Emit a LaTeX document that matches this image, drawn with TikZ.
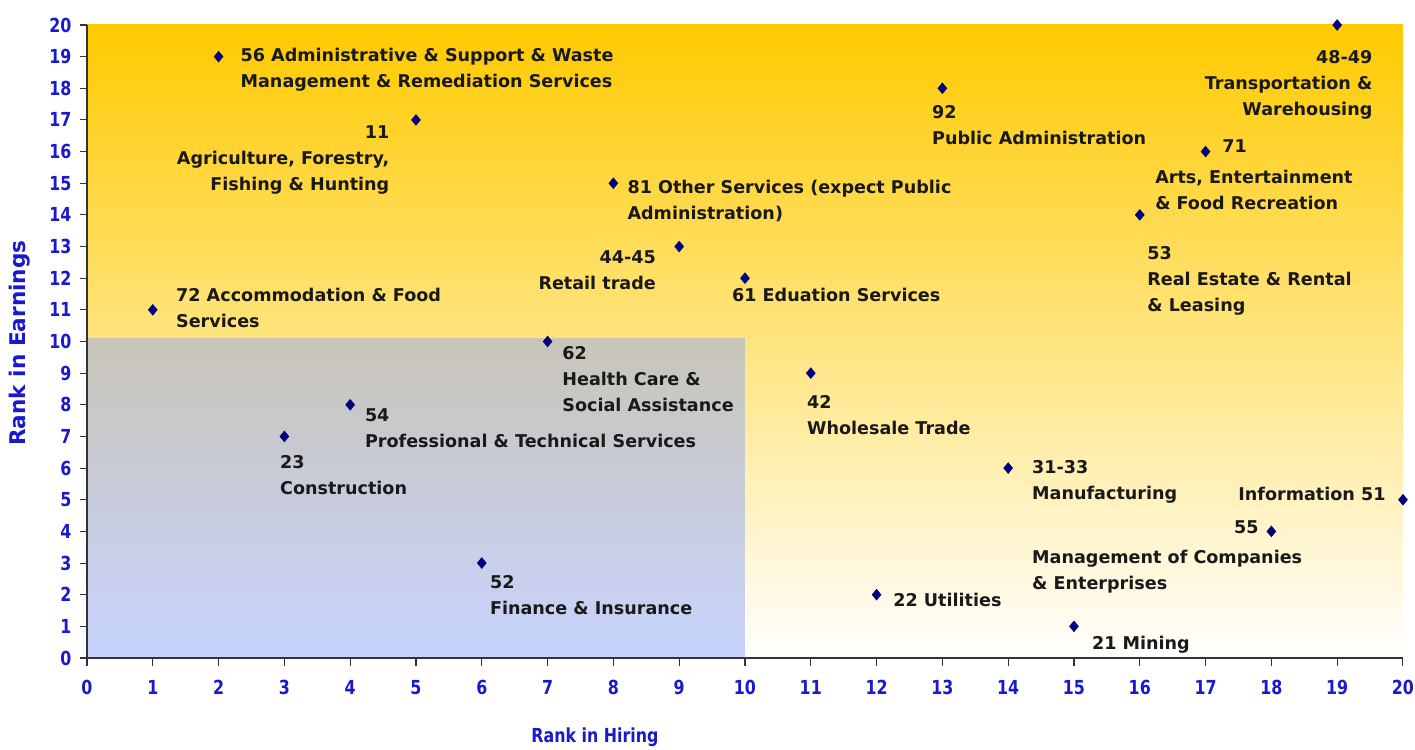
\documentclass[tikz,border=0pt]{standalone}
\usepackage{fontspec}
\setmainfont{DejaVu Sans}
\newfontfamily\axisfont[FakeStretch=0.82]{DejaVu Sans}
\usetikzlibrary{shapes.geometric}
\definecolor{navy}{RGB}{0,0,128}
\definecolor{axisblue}{RGB}{25,25,205}
\definecolor{gold}{RGB}{255,202,0}
\definecolor{peach}{RGB}{255,226,145}
\definecolor{shadeblue}{RGB}{135,160,255}
\tikzset{
	dot/.style={diamond, fill=navy, inner sep=0pt, minimum width=0.2cm, minimum height=0.24cm},
	lbl/.style={font=\bfseries\fontsize{10}{15}\selectfont, text=black!90, inner sep=0pt, align=left},
	ticklbl/.style={font=\axisfont\bfseries\fontsize{11}{13}\selectfont, text=axisblue, inner sep=0pt},
	axistitle/.style={font=\axisfont\bfseries\fontsize{11}{13}\selectfont, text=axisblue, inner sep=0pt}
}

\begin{document}
\begin{tikzpicture}[x=1.316cm, y=0.633cm]
	\useasboundingbox (-1.322,-2.907) rectangle (20.183,20.79);
	\shade [top color=gold, middle color=peach, bottom color=white] (0,0) rectangle (20,20);
	\fill [shadeblue, opacity=0.45] (0,0) rectangle (10,10.1);
	\draw [line width=1pt, black!80] (0,20) -- (0,0) -- (20,0);
	\foreach \i in {0,...,20} {
		\draw [line width=0.6pt, black!80] (\i,0) -- (\i,-0.25);
		\draw [line width=0.6pt, black!80] (0,\i) -- (-0.106,\i);
		\node [ticklbl] (xt\i) at (\i,-0.92) {\i};
		\node [ticklbl, anchor=east] (yt\i) at (-0.23,\i) {\i};
	}
	\node [axistitle] (xlab) at (7.72,-2.5) {Rank in Hiring};
	\node [axistitle, font=\bfseries\fontsize{12.3}{14}\selectfont, rotate=90] (ylab) at (-1.02,9.95) {Rank in Earnings};

	\node [dot] (m56) at (2,19) {};
	\node [dot] (m11) at (5,17) {};
	\node [dot] (m72) at (1,11) {};
	\node [dot] (m81) at (8,15) {};
	\node [dot] (m44) at (9,13) {};
	\node [dot] (m61) at (10,12) {};
	\node [dot] (m92) at (13,18) {};
	\node [dot] (m48) at (19,20) {};
	\node [dot] (m71) at (17,16) {};
	\node [dot] (m53) at (16,14) {};
	\node [dot] (m62) at (7,10) {};
	\node [dot] (m54) at (4,8) {};
	\node [dot] (m23) at (3,7) {};
	\node [dot] (m52) at (6,3) {};
	\node [dot] (m42) at (11,9) {};
	\node [dot] (m31) at (14,6) {};
	\node [dot] (m22) at (12,2) {};
	\node [dot] (m21) at (15,1) {};
	\node [dot] (m55) at (18,4) {};
	\node [dot] (m51) at (20,5) {};

	\node [lbl, anchor=base west] (l56) at (2.33,18.02) {56 Administrative \& Support \& Waste\\Management \& Remediation Services};
	\node [lbl, anchor=base east, align=right] (l11) at (4.6,14.76) {11\\Agriculture, Forestry,\\Fishing \& Hunting};
	\node [lbl, anchor=base west] (l72) at (1.35,10.44) {72 Accommodation \& Food\\Services};
	\node [lbl, anchor=base west] (l81) at (8.21,13.85) {81 Other Services (expect Public\\Administration)};
	\node [lbl, anchor=base east, align=right] (l44) at (8.65,11.64) {44-45\\Retail trade};
	\node [lbl, anchor=base west] (l61) at (9.80,11.25) {61 Eduation Services};
	\node [lbl, anchor=base west] (l92) at (12.84,16.22) {92\\Public Administration};
	\node [lbl, anchor=base east, align=right] (l48) at (19.54,17.13) {48-49\\Transportation \&\\Warehousing};
	\node [lbl, anchor=base west] (l71) at (17.25,15.96) {71};
	\node [lbl, anchor=base west] (l71b) at (16.23,14.17) {Arts, Entertainment\\\& Food Recreation};
	\node [lbl, anchor=base west] (l53) at (16.11,10.94) {53\\Real Estate \& Rental\\\& Leasing};
	\node [lbl, anchor=base west] (l62) at (7.22,7.78) {62\\Health Care \&\\Social Assistance};
	\node [lbl, anchor=base west] (l54) at (4.22,6.65) {54\\Professional \& Technical Services};
	\node [lbl, anchor=base west] (l23) at (2.93,5.16) {23\\Construction};
	\node [lbl, anchor=base west] (l52) at (6.12,1.37) {52\\Finance \& Insurance};
	\node [lbl, anchor=base west] (l42) at (10.94,7.06) {42\\Wholesale Trade};
	\node [lbl, anchor=base west] (l31) at (14.36,5.01) {31-33\\Manufacturing};
	\node [lbl, anchor=base west] (l22) at (12.25,1.64) {22 Utilities};
	\node [lbl, anchor=base west] (l21) at (15.27,0.28) {21 Mining};
	\node [lbl, anchor=base east] (l55) at (17.81,3.92) {55};
	\node [lbl, anchor=base west] (l55b) at (14.36,2.16) {Management of Companies\\\& Enterprises};
	\node [lbl, anchor=base east] (l51) at (19.74,4.99) {Information 51};
\end{tikzpicture}
\end{document}
